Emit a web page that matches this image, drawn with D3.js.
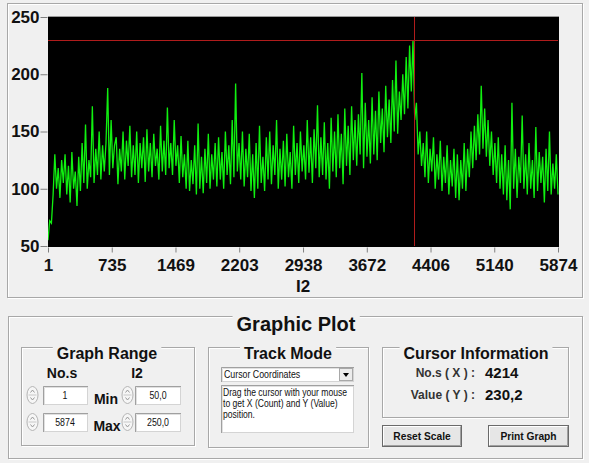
<!DOCTYPE html>
<html><head><meta charset="utf-8">
<script src="https://cdn.jsdelivr.net/npm/d3@7"></script>
<style>
html,body{margin:0;padding:0;background:#f0f0f0;}
svg{display:block;font-family:Arial,"Liberation Sans",sans-serif;}
</style>
</head><body>
<svg id="c" width="589" height="463"></svg>
<script>
// ---- data ----
const xTicks = [1, 735, 1469, 2203, 2938, 3672, 4406, 5140, 5874];
const yTicks = [50, 100, 150, 200, 250];
const xDomain = [1, 5874];
const yDomain = [50, 250];
const xAxisTitle = "I2";
// sampled I2 values, evenly spaced over samples 1..5874
const signal = [
 55,72,70,95,130,100,118,92,125,105,
 130,95,120,88,132,100,115,85,128,98,
 140,105,156,100,125,110,172,105,135,112,
 150,108,138,115,140,188,112,160,118,138,
 145,104,135,115,150,108,142,120,155,110,
 138,112,150,105,140,118,145,106,152,115,
 140,110,148,120,135,108,155,115,142,112,
 171,118,140,112,160,120,138,105,146,110,
 130,100,142,98,125,104,138,95,157,100,
 128,96,135,105,148,100,130,108,140,102,
 145,108,132,100,150,112,138,104,160,110,
 192,115,140,108,150,102,135,110,148,98,
 130,92,140,100,155,105,128,98,145,108,
 150,104,138,112,160,100,135,108,142,102,
 148,110,132,100,155,112,140,105,150,115,
 138,108,160,114,145,105,152,118,173,110,
 145,112,158,108,140,100,162,115,150,110,
 165,118,148,104,170,120,155,112,172,125,
 160,120,165,130,201,118,175,128,160,122,
 180,130,168,125,185,140,170,132,190,145,
 178,140,195,150,212,148,185,160,200,165,
 215,170,225,185,230,160,175,130,150,120,
 140,110,150,105,135,115,145,100,130,108,
 142,98,128,105,138,95,125,102,135,92,
 130,90,125,100,140,98,135,110,150,118,
 155,125,165,130,190,135,170,128,160,120,
 150,112,140,105,145,100,130,95,138,90,
 125,82,175,100,135,92,128,105,164,100,
 130,95,140,100,125,92,154,98,132,105,
 128,88,135,98,150,95,122,100,130,95
];
const cursorX = 4214;
const cursorY = 230.2;
const rangeMinX = "1", rangeMaxX = "5874", rangeMinY = "50,0", rangeMaxY = "250,0";
const cursorXText = "4214", cursorYText = "230,2";
const trackModeOption = "Cursor Coordinates";
const trackHelp = ["Drag the cursor with your mouse", "to get X (Count) and Y (Value)", "position."];

// ---- drawing ----
const svg = d3.select("#c");
const x = d3.scaleLinear().domain(xDomain).range([48, 558]);
const y = d3.scaleLinear().domain(yDomain).range([246, 17]);

function etched(g, x0, y0, w, h) {
  g.append("rect").attr("x", x0 + 1.5).attr("y", y0 + 1.5).attr("width", w - 1).attr("height", h - 1)
    .attr("fill", "none").attr("stroke", "#ffffff");
  g.append("rect").attr("x", x0 + 0.5).attr("y", y0 + 0.5).attr("width", w - 1).attr("height", h - 1)
    .attr("fill", "none").attr("stroke", "#a8a8a8");
}
function groupBox(x0, y0, w, h, title, size, cx) {
  const g = svg.append("g");
  etched(g, x0, y0, w, h);
  const t = g.append("text").attr("x", cx).attr("y", y0 + size * 0.74).attr("text-anchor", "middle")
    .attr("font-size", size).attr("font-weight", "bold").attr("fill", "#111").text(title);
  const bb = t.node().getBBox();
  g.insert("rect", "text").attr("x", bb.x - 4).attr("y", y0 - 1).attr("width", bb.width + 8).attr("height", 4)
    .attr("fill", "#f0f0f0");
  return g;
}

// top frame
etched(svg, 7, 3, 576, 295);

// plot background
svg.append("rect").attr("x", x(xDomain[0])).attr("y", y(yDomain[1]))
  .attr("width", x(xDomain[1]) - x(xDomain[0]) + 1).attr("height", y(yDomain[0]) - y(yDomain[1]) + 1)
  .attr("fill", "#000");
svg.append("line").attr("x1", x(xDomain[0])).attr("x2", x(xDomain[1]) + 1)
  .attr("y1", y(yDomain[1]) - 0.5).attr("y2", y(yDomain[1]) - 0.5).attr("stroke", "#9a9a9a");

svg.append("clipPath").attr("id", "clip").append("rect")
  .attr("x", x(xDomain[0])).attr("y", y(yDomain[1]))
  .attr("width", x(xDomain[1]) - x(xDomain[0]) + 1).attr("height", y(yDomain[0]) - y(yDomain[1]) + 1);

const n = signal.length;
const idx = i => xDomain[0] + i * (xDomain[1] - xDomain[0]) / (n - 1);
const line = d3.line().x((d, i) => x(idx(i))).y(d => y(d));
svg.append("path").datum(signal).attr("clip-path", "url(#clip)")
  .attr("d", line).attr("fill", "none").attr("stroke", "#10f010").attr("stroke-width", 1.3);

// cursor lines
svg.append("line").attr("x1", x(xDomain[0])).attr("x2", x(xDomain[1]))
  .attr("y1", Math.round(y(cursorY)) + 0.5).attr("y2", Math.round(y(cursorY)) + 0.5)
  .attr("stroke", "#b01c1c").attr("stroke-width", 1);
svg.append("line").attr("x1", Math.round(x(cursorX)) + 0.5).attr("x2", Math.round(x(cursorX)) + 0.5)
  .attr("y1", y(yDomain[1])).attr("y2", y(yDomain[0]))
  .attr("stroke", "#b01c1c").attr("stroke-width", 1);

// axes
const ya = svg.append("g").attr("transform", "translate(47.5,0)")
  .call(d3.axisLeft(y).tickValues(yTicks).tickSize(7).tickPadding(1).tickFormat(d3.format("d")));
const xa = svg.append("g").attr("transform", "translate(0,247.5)")
  .call(d3.axisBottom(x).tickValues(xTicks).tickSize(5).tickPadding(6).tickFormat(d3.format("d")));
[ya, xa].forEach(a => {
  a.select(".domain").remove();
  a.selectAll(".tick line").attr("stroke", "#808080");
  a.selectAll(".tick text").attr("font-size", 17).attr("font-weight", "bold").attr("fill", "#111")
    .attr("font-family", "Arial, 'Liberation Sans', sans-serif");
});
svg.append("text").attr("x", 303).attr("y", 292).attr("text-anchor", "middle")
  .attr("font-size", 17).attr("font-weight", "bold").attr("fill", "#111").text(xAxisTitle);

// bottom panel
groupBox(8, 316, 575, 143, "Graphic Plot", 20, 296);
groupBox(21, 347, 174, 99, "Graph Range", 16, 107);
groupBox(208, 347, 161, 101, "Track Mode", 16, 288);
groupBox(382, 347, 187, 71, "Cursor Information", 16, 476);

function boldLabel(tx, ty, s, size, anchor) {
  svg.append("text").attr("x", tx).attr("y", ty).attr("text-anchor", anchor || "middle")
    .attr("font-size", size).attr("font-weight", "bold").attr("fill", "#111").text(s);
}
boldLabel(62, 378, "No.s", 14);
boldLabel(137, 378, "I2", 14);
boldLabel(106, 404, "Min", 14);
boldLabel(107, 431, "Max", 14);

function condensed(tx, ty, s, anchor, sx, fs) {
  svg.append("text").attr("transform", `translate(${tx},${ty}) scale(${sx || 0.8},1)`)
    .attr("text-anchor", anchor || "start").attr("font-size", fs || 11).attr("fill", "#111").text(s);
}
function spin(cx, cy) {
  const g = svg.append("g");
  g.append("ellipse").attr("cx", cx).attr("cy", cy).attr("rx", 5.5).attr("ry", 8.5)
    .attr("fill", "#f6f6f6").attr("stroke", "#b4b4b4");
  g.append("line").attr("x1", cx - 4).attr("x2", cx + 4).attr("y1", cy).attr("y2", cy).attr("stroke", "#c8c8c8");
  g.append("path").attr("d", `M${cx - 2},${cy - 2.5} L${cx},${cy - 5} L${cx + 2},${cy - 2.5}`)
    .attr("fill", "none").attr("stroke", "#9a9a9a");
  g.append("path").attr("d", `M${cx - 2},${cy + 2.5} L${cx},${cy + 5} L${cx + 2},${cy + 2.5}`)
    .attr("fill", "none").attr("stroke", "#9a9a9a");
}
function textBox(x0, y0, w, h) {
  svg.append("rect").attr("x", x0 + 0.5).attr("y", y0 + 0.5).attr("width", w - 1).attr("height", h - 1)
    .attr("fill", "#fff").attr("stroke", "#d4d4d4");
  svg.append("path").attr("d", `M${x0 + 0.5},${y0 + h} V${y0 + 0.5} H${x0 + w}`)
    .attr("fill", "none").attr("stroke", "#a0a0a0");
  svg.append("path").attr("d", `M${x0 + 1.5},${y0 + h - 1} V${y0 + 1.5} H${x0 + w - 1}`)
    .attr("fill", "none").attr("stroke", "#e0e0e0");
}
spin(32.5, 395); textBox(43, 386, 45, 19); condensed(65, 399, rangeMinX, "middle");
spin(32.5, 422); textBox(43, 413, 45, 19); condensed(65, 426, rangeMaxX, "middle");
spin(127.5, 395); textBox(135, 386, 46, 19); condensed(158, 399, rangeMinY, "middle");
spin(127.5, 422); textBox(135, 413, 46, 19); condensed(158, 426, rangeMaxY, "middle");

// dropdown
textBox(221, 367, 133, 15);
condensed(224, 378, trackModeOption);
svg.append("rect").attr("x", 339.5).attr("y", 368.5).attr("width", 13).attr("height", 12)
  .attr("fill", "#ececec").attr("stroke", "#a8a8a8");
svg.append("path").attr("d", "M343,373 L349,373 L346,377 Z").attr("fill", "#000");
// help text area
textBox(221, 385, 133, 48);
trackHelp.forEach((s, i) => condensed(223, 396 + i * 11, s, "start", 0.86, 10));

// cursor information
svg.append("text").attr("x", 475).attr("y", 377).attr("text-anchor", "end").attr("font-size", 12)
  .attr("font-weight", "bold").attr("fill", "#333").text("No.s ( X ) :");
svg.append("text").attr("x", 475).attr("y", 399).attr("text-anchor", "end").attr("font-size", 12)
  .attr("font-weight", "bold").attr("fill", "#333").text("Value ( Y ) :");
boldLabel(485, 378, cursorXText, 15, "start");
boldLabel(485, 400, cursorYText, 15, "start");

function button(x0, y0, w, h, label) {
  svg.append("rect").attr("x", x0 + 0.5).attr("y", y0 + 0.5).attr("width", w - 1).attr("height", h - 1)
    .attr("fill", "#e6e6e6").attr("stroke", "#6a6a6a");
  svg.append("path").attr("d", `M${x0 + 1.5},${y0 + h - 2} V${y0 + 1.5} H${x0 + w - 2}`)
    .attr("fill", "none").attr("stroke", "#ffffff");
  svg.append("path").attr("d", `M${x0 + 1.5},${y0 + h - 1.5} H${x0 + w - 1.5} V${y0 + 1.5}`)
    .attr("fill", "none").attr("stroke", "#a0a0a0");
  svg.append("text").attr("transform", `translate(${x0 + w / 2},${y0 + h / 2 + 4}) scale(0.93,1)`)
    .attr("text-anchor", "middle").attr("font-size", 11).attr("font-weight", "bold").attr("fill", "#111").text(label);
}
button(382, 425, 80, 22, "Reset Scale");
button(488, 425, 81, 22, "Print Graph");
</script>
</body></html>
